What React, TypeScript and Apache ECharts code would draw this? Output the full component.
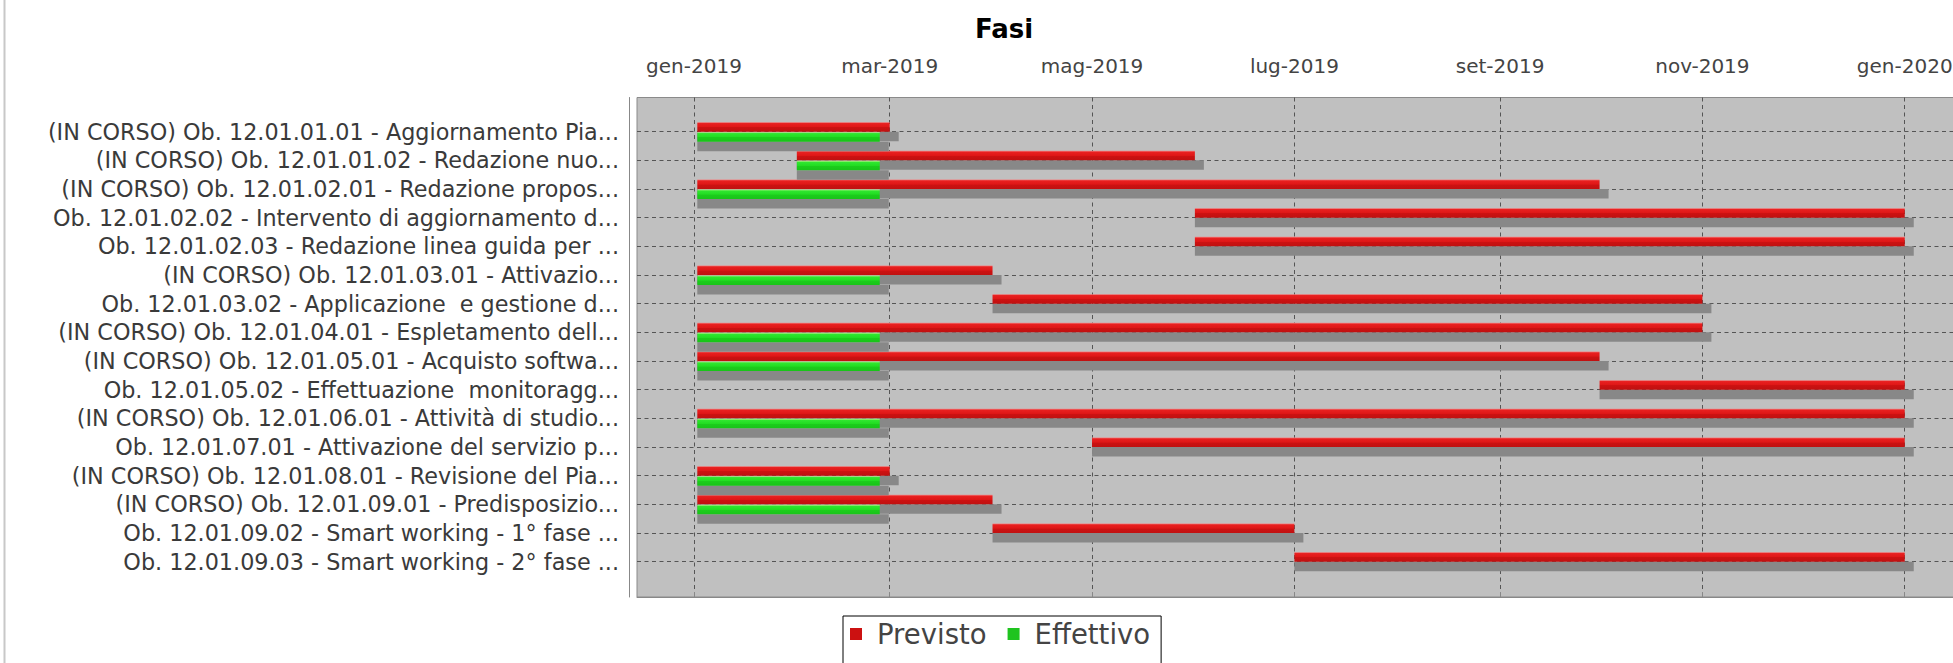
import React, { useEffect, useRef } from 'react';
import * as echarts from 'echarts';

const CATEGORIES = [
  '(IN CORSO) Ob. 12.01.01.01 - Aggiornamento Pia...',
  '(IN CORSO) Ob. 12.01.01.02 - Redazione nuo...',
  '(IN CORSO) Ob. 12.01.02.01 - Redazione propos...',
  'Ob. 12.01.02.02 - Intervento di aggiornamento d...',
  'Ob. 12.01.02.03 - Redazione linea guida per ...',
  '(IN CORSO) Ob. 12.01.03.01 - Attivazio...',
  'Ob. 12.01.03.02 - Applicazione  e gestione d...',
  '(IN CORSO) Ob. 12.01.04.01 - Espletamento dell...',
  '(IN CORSO) Ob. 12.01.05.01 - Acquisto softwa...',
  'Ob. 12.01.05.02 - Effettuazione  monitoragg...',
  '(IN CORSO) Ob. 12.01.06.01 - Attività di studio...',
  'Ob. 12.01.07.01 - Attivazione del servizio p...',
  '(IN CORSO) Ob. 12.01.08.01 - Revisione del Pia...',
  '(IN CORSO) Ob. 12.01.09.01 - Predisposizio...',
  'Ob. 12.01.09.02 - Smart working - 1° fase ...',
  'Ob. 12.01.09.03 - Smart working - 2° fase ...',
];

const PREVISTO_START = [
  '2019-01-02', '2019-02-01', '2019-01-02', '2019-06-01', '2019-06-01', '2019-01-02', '2019-04-01', '2019-01-02',
  '2019-01-02', '2019-10-01', '2019-01-02', '2019-05-01', '2019-01-02', '2019-01-02', '2019-04-01', '2019-07-01',
];
const PREVISTO_END = [
  '2019-03-01', '2019-06-01', '2019-10-01', '2020-01-01', '2020-01-01', '2019-04-01', '2019-11-01', '2019-11-01',
  '2019-10-01', '2020-01-01', '2020-01-01', '2020-01-01', '2019-03-01', '2019-04-01', '2019-07-01', '2020-01-01',
];

const EFFETTIVO_ROWS = [0, 1, 2, 5, 7, 8, 10, 12, 13];
const EFFETTIVO_START = [
  '2019-01-02', '2019-02-01', '2019-01-02', '2019-01-02', '2019-01-02', '2019-01-02', '2019-01-02', '2019-01-02', '2019-01-02',
];
const EFFETTIVO_END = [
  '2019-02-26', '2019-02-26', '2019-02-26', '2019-02-26', '2019-02-26', '2019-02-26', '2019-02-26', '2019-02-26', '2019-02-26',
];

const MONTHS = ['gen', 'feb', 'mar', 'apr', 'mag', 'giu', 'lug', 'ago', 'set', 'ott', 'nov', 'dic'];

const DAY = 24 * 3600 * 1000;
const toTime = (s: string) => {
  const [y, m, d] = s.split('-').map(Number);
  return new Date(y, m - 1, d).getTime();
};
const AXIS_MIN = new Date(2018, 11, 14, 19, 41).getTime();
const AXIS_MAX = new Date(2020, 0, 26, 16, 48).getTime();

const FONT = 'DejaVu Sans';

const BAR_H = 9.5;
const SHADOW_DX = 9;
const SHADOW_DY = 9.5;

const redFill = new echarts.graphic.LinearGradient(0, 0, 0, 1, [
  { offset: 0, color: '#f28080' },
  { offset: 0.14, color: '#e82020' },
  { offset: 0.5, color: '#df1717' },
  { offset: 0.56, color: '#cc1212' },
  { offset: 1, color: '#c01010' },
]);
const greenFill = new echarts.graphic.LinearGradient(0, 0, 0, 1, [
  { offset: 0, color: '#d8f0a0' },
  { offset: 0.14, color: '#30e630' },
  { offset: 0.5, color: '#22dd22' },
  { offset: 0.56, color: '#1ccc1c' },
  { offset: 1, color: '#18c418' },
]);

const makeRender = (isPrev: boolean) => (params: any, api: any) => {
  const row = api.value(2);
  const p0 = api.coord([api.value(0), row]);
  const p1 = api.coord([api.value(1), row]);
  const y = isPrev ? p0[1] - BAR_H : p0[1] + 0.5;
  const w = p1[0] - p0[0];
  return {
    type: 'group',
    children: [
      {
        type: 'rect',
        shape: { x: p0[0], y: y + SHADOW_DY, width: w + SHADOW_DX, height: BAR_H },
        style: { fill: '#888888' },
      },
      {
        type: 'rect',
        shape: { x: p0[0], y, width: w, height: BAR_H },
        style: { fill: isPrev ? redFill : greenFill },
      },
    ],
  };
};

const previstoData = CATEGORIES.map((_, i) => [toTime(PREVISTO_START[i]), toTime(PREVISTO_END[i]), i]);
const effettivoData = EFFETTIVO_ROWS.map((r, i) => [toTime(EFFETTIVO_START[i]), toTime(EFFETTIVO_END[i]), r]);

const gridLine = { color: '#555555', width: 1, type: [4, 3.5] as any };

const option: any = {
  animation: false,
  backgroundColor: '#ffffff',
  title: {
    text: 'Fasi',
    left: 1004,
    top: 16,
    padding: 0,
    textAlign: 'center',
    textStyle: { fontFamily: FONT, fontSize: 26, fontWeight: 'bold', color: '#000000' },
  },
  legend: {
    data: ['Previsto', 'Effettivo'],
    left: 843,
    top: 616,
    icon: 'rect',
    itemWidth: 12,
    itemHeight: 12,
    itemGap: 21,
    padding: [4, 11, 22, 7],
    borderColor: '#000000',
    borderWidth: 1,
    textStyle: { fontFamily: FONT, fontSize: 27.5, color: '#444444', padding: [0, 0, 8, 10] },
  },
  grid: [
    {
      left: 637, top: 97.5, width: 1353, height: 499.5, show: true,
      backgroundColor: '#c0c0c0', borderColor: '#8a8a8a', borderWidth: 1,
      containLabel: false, outerBoundsMode: 'none',
    },
    { left: 637, top: 131.7, width: 1353, height: 430, containLabel: false, outerBoundsMode: 'none' },
  ],
  xAxis: [
    {
      type: 'time', gridIndex: 0, position: 'top', offset: 8,
      min: AXIS_MIN, max: AXIS_MAX, minInterval: 70 * DAY, maxInterval: 70 * DAY,
      axisLine: { show: true, lineStyle: { color: '#888888', width: 1 } },
      axisTick: { show: true, length: 4, lineStyle: { color: '#888888' } },
      axisLabel: {
        fontFamily: FONT, fontSize: 20, color: '#444444', margin: 14,
        showMinLabel: false, showMaxLabel: false,
        formatter: (v: number) => {
          const d = new Date(v);
          return MONTHS[d.getMonth()] + '-' + d.getFullYear();
        },
      },
      splitLine: { show: true, showMinLine: false, showMaxLine: false, lineStyle: gridLine },
    },
    { type: 'time', gridIndex: 1, min: AXIS_MIN, max: AXIS_MAX, show: false },
  ],
  yAxis: [
    {
      type: 'value', gridIndex: 0, min: 0, max: 1, offset: 7.5,
      axisLine: { show: true, lineStyle: { color: '#888888', width: 1 } },
      axisTick: { show: false }, axisLabel: { show: false }, splitLine: { show: false },
    },
    {
      type: 'category', gridIndex: 1, data: CATEGORIES, inverse: true, boundaryGap: false,
      axisLine: { show: false }, axisTick: { show: false },
      axisLabel: { fontFamily: FONT, fontSize: 22.3, color: '#3a3a3a', margin: 18, interval: 0 },
      splitLine: { show: true, lineStyle: gridLine },
    },
  ],
  graphic: [
    {
      type: 'line', silent: true,
      shape: { x1: 4.5, y1: 0, x2: 4.5, y2: 663 },
      style: { stroke: '#c8c8c8', lineWidth: 2 },
    },
  ],
  series: [
    {
      name: 'Previsto', type: 'custom', xAxisIndex: 1, yAxisIndex: 1,
      itemStyle: { color: '#cc1111' },
      encode: { x: [0, 1], y: 2 },
      renderItem: makeRender(true),
      data: previstoData,
    },
    {
      name: 'Effettivo', type: 'custom', xAxisIndex: 1, yAxisIndex: 1,
      itemStyle: { color: '#1fc41f' },
      encode: { x: [0, 1], y: 2 },
      renderItem: makeRender(false),
      data: effettivoData,
    },
  ],
};

export default function App() {
  const ref = useRef<HTMLDivElement>(null);
  useEffect(() => {
    const chart = echarts.init(ref.current!, null, { renderer: 'svg' });
    chart.setOption(option);
    return () => chart.dispose();
  }, []);
  return (
    <div style={{ position: 'fixed', left: 0, top: 0, width: 1953, height: 663, overflow: 'hidden', background: '#fff' }}>
      <div ref={ref} style={{ width: 1953, height: 663 }} />
    </div>
  );
}
